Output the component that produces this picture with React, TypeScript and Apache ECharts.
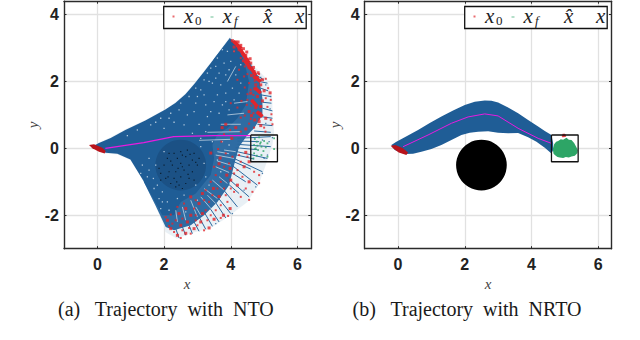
import React, { useEffect, useRef } from "react";
import * as echarts from "echarts";

type P = number[];
const xTicks = [0, 2, 4, 6];
const yTicks = [-2, 0, 2, 4];
const goalBox: P[] = [[4.6, 0.4], [5.4, 0.4], [5.4, -0.4], [4.6, -0.4], [4.6, 0.4]];
const obstacle: P[] = [[2.5, -0.5, 0.76]];

// Panel (a)
const fanPaleA: P[] = [[-0.1, 0.08], [0.03, 0.17], [0.4, 0.33], [0.84, 0.57], [1.44, 0.85], [2.04, 1.18], [2.34, 1.38], [2.64, 1.64], [2.9, 1.94], [3.18, 2.29], [3.5, 2.7], [3.97, 3.33], [4.1, 3.25], [4.6, 2.56], [5.1, 2.06], [5.25, 1.46], [5.25, 0.95], [5.3, 0.5], [5.25, 0.1], [5.05, -0.5], [4.83, -1.1], [4.5, -1.6], [3.9, -2.06], [3.39, -2.39], [2.79, -2.54], [2.39, -2.7], [2.04, -2.5], [1.99, -2.3], [1.74, -1.7], [1.39, -1.0], [0.99, -0.35], [0.6, -0.18], [0.25, -0.15]];
const fanMidA: P[] = [[3.5, 2.68], [3.97, 3.3], [4.15, 3.15], [4.55, 2.6], [4.85, 2.1], [4.95, 1.5], [4.95, 1.0], [4.7, 0.6], [4.5, 0.4], [4.25, 0.05], [4.1, -0.5], [3.95, -1.1], [3.6, -1.6], [3.2, -2.0], [2.8, -2.3], [2.3, -2.45], [2.05, -2.35], [1.74, -1.7], [1.39, -1.0], [2.0, 0.0]];
const fanSolidA: P[] = [[-0.1, 0.08], [0.03, 0.15], [0.4, 0.31], [0.84, 0.55], [1.44, 0.83], [2.04, 1.16], [2.34, 1.36], [2.64, 1.62], [2.9, 1.92], [3.18, 2.27], [3.5, 2.68], [3.97, 3.28], [4.2, 3.05], [4.4, 2.6], [4.55, 2.0], [4.45, 1.3], [4.2, 0.9], [3.9, 0.6], [3.6, 0.42], [3.45, 0.1], [3.5, -0.3], [3.4, -0.8], [2.95, -1.35], [2.5, -1.6], [2.3, -2.0], [1.95, -2.0], [1.59, -1.35], [1.39, -0.98], [0.99, -0.33], [0.6, -0.16], [0.25, -0.13]];
const startA: P[] = [[-0.25, 0.1], [-0.1, 0.12], [0.15, 0.02], [0.25, -0.08], [0.22, -0.15], [0.05, -0.1], [-0.15, 0.0]];
const nominalA: P[] = [[0.24, 0], [1.39, 0.17], [2.29, 0.35], [3.49, 0.38], [4.6, 0.38]];
const streaksA: P[] = [[4.2, 0.3, 5.2, 0.35], [4.2, 0.22, 4.85, 0.2], [4.2, 0.12, 5.2, 0.05], [4.15, 0.02, 4.8, -0.04], [4.1, -0.08, 5.1, -0.3], [4.1, -0.18, 4.7, -0.32], [4.05, -0.28, 4.95, -0.7], [4.05, -0.38, 4.6, -0.62], [4.0, -0.48, 4.8, -1.1], [3.95, -0.68, 4.45, -1.0], [3.9, -0.88, 4.55, -1.45], [3.85, -1.0, 4.25, -1.35], [3.75, -1.2, 4.2, -1.75], [3.6, -1.45, 4.0, -1.95], [3.5, -1.55, 3.85, -2.08], [3.35, -1.75, 3.65, -2.2], [3.2, -1.9, 3.45, -2.33], [3.05, -2.05, 3.25, -2.42], [2.9, -2.2, 3.05, -2.48], [2.75, -2.3, 2.85, -2.55], [2.55, -2.35, 2.65, -2.6], [2.35, -2.4, 2.45, -2.68], [4.5, 2.6, 4.62, 2.5], [4.75, 2.2, 4.98, 2.05], [4.85, 2.0, 5.1, 1.95], [4.9, 1.8, 5.12, 1.72], [4.9, 1.6, 5.2, 1.55], [4.95, 1.38, 5.22, 1.35], [4.95, 1.2, 5.25, 1.12], [4.9, 0.95, 5.25, 0.9], [4.8, 0.72, 5.25, 0.68], [4.7, 0.52, 5.2, 0.48]];
const gapsA: P[] = [[3.05, 0.24, 4.0, 0.27], [3.3, 0.48, 4.3, 0.5], [3.7, 0.72, 4.3, 0.72], [3.55, -0.2, 4.1, -0.3], [3.55, -0.55, 3.95, -0.72], [3.45, -0.95, 3.8, -1.25], [3.1, -1.45, 3.45, -1.85], [2.8, -1.55, 3.0, -2.05], [2.55, -1.75, 2.65, -2.15], [2.35, -1.85, 2.4, -2.2], [3.2, -1.2, 3.6, -1.5], [3.8, -0.05, 4.15, -0.1], [3.9, 1.0, 4.4, 1.05], [4.1, 1.35, 4.5, 1.4], [3.9, 2.0, 4.15, 2.45], [3.6, -0.1, 3.95, -0.16], [3.6, -0.38, 4.0, -0.5], [3.65, -0.85, 3.9, -1.05], [3.3, -1.4, 3.55, -1.65], [2.95, -1.75, 3.1, -2.0]];
const speckleA: P[] = [[1.6, 0.7], [1.9, 0.9], [2.2, 1.05], [2.5, 1.35], [2.75, 1.55], [2.95, 1.8], [3.2, 2.05], [3.4, 2.4], [3.6, 2.7], [3.75, 2.95], [3.9, 2.9], [3.8, 2.55], [3.65, 2.25], [3.95, 2.35], [3.45, 1.95], [3.2, 1.6], [2.95, 1.35], [3.5, 1.4], [3.85, 1.65], [4.05, 1.8], [4.15, 2.2], [3.3, 0.95], [3.65, 1.05], [3.95, 1.15], [2.7, 1.0], [2.3, 0.78], [3.05, 0.72], [3.35, 0.7], [1.2, 0.55], [0.9, 0.38], [2.0, 0.6], [2.6, 0.7], [2.9, 1.1], [3.1, 0.3], [2.0, -0.1], [1.75, -0.5], [1.5, -0.85], [1.7, -1.2], [1.85, -1.5], [1.95, -1.6], [2.1, -1.6], [1.35, -0.5], [1.55, -0.3], [3.2, -0.45], [3.25, -0.85], [2.95, -1.1], [2.6, -1.4], [2.4, -1.5], [3.1, 0.05], [2.15, 0.9], [2.45, 1.15], [3.1, 1.75], [3.35, 2.0], [3.55, 2.45], [3.7, 1.9], [4.0, 2.6], [4.1, 2.9], [4.1, 1.45], [3.75, 1.3], [3.4, 1.1], [1.75, 0.78], [1.55, -0.65], [1.68, -0.9], [1.3, -0.75], [2.85, 0.45], [3.25, 0.5], [3.3, 2.25], [3.55, 2.1], [3.85, 2.2], [3.0, 1.55], [3.25, 1.3], [3.6, 1.6], [3.85, 1.4], [4.25, 1.65], [4.3, 1.95], [4.3, 2.5], [1.8, -1.1], [1.95, -1.3], [2.15, -1.85], [1.9, -1.8], [3.45, 0.2], [3.75, 0.2], [3.95, 0.1], [3.6, -0.35], [3.7, -0.7], [3.35, -1.1], [3.0, -1.55], [2.65, -1.9]];
const obstacleDotsA: P[] = [[2.3, -0.15], [2.5, -0.1], [2.7, -0.05], [2.9, -0.15], [2.1, -0.3], [2.4, -0.3], [2.65, -0.25], [2.85, -0.35], [3.05, -0.3], [2.0, -0.5], [2.25, -0.5], [2.5, -0.45], [2.75, -0.5], [3.0, -0.5], [1.9, -0.75], [2.15, -0.7], [2.35, -0.7], [2.6, -0.65], [2.85, -0.7], [2.05, -0.9], [2.3, -0.9], [2.5, -0.85], [2.75, -0.9], [2.2, -1.05], [2.45, -1.1], [2.65, -1.05], [2.55, -1.2], [2.35, -1.15], [2.9, -0.95], [1.85, -0.6], [2.15, -0.15], [1.9, -0.95], [2.55, -0.2], [2.78, -0.18], [2.2, -0.38], [2.95, -0.42], [2.55, -0.55], [2.42, -0.6], [2.72, -0.78], [2.12, -0.85], [2.38, -1.0]];
const redBandA: P[] = [[4.08, 3.2, 4.32, 2.98], [4.2, 3.08, 4.42, 2.75], [4.35, 2.85, 4.55, 2.55], [4.42, 2.62, 4.62, 2.35], [4.6, 2.42, 4.75, 2.18], [4.68, 2.15, 4.9, 2.0], [4.72, 1.82, 4.9, 1.65], [4.62, 1.45, 4.8, 1.25], [4.78, 1.1, 4.95, 0.95]];
const redBigA: P[] = [[4.05, 3.22], [4.15, 3.18], [4.2, 3.08], [4.1, 3.03], [4.3, 3.08], [4.25, 2.95], [4.38, 2.98], [4.35, 2.85], [4.45, 2.78], [4.5, 2.65], [4.38, 2.62], [4.6, 2.55], [4.55, 2.42], [4.7, 2.3], [4.62, 2.18], [4.8, 2.12], [4.95, 2.05], [4.9, 1.9], [4.72, 1.78], [5.0, 1.72], [5.18, 1.66], [4.8, 1.55], [4.65, 1.42], [4.95, 1.42], [4.75, 1.22], [4.55, 1.1], [4.88, 1.05], [4.72, 0.85], [4.9, 0.68], [5.05, 0.9], [3.85, 0.72], [4.15, 0.62], [4.45, 0.58], [3.74, 0.62], [4.03, 0.3], [3.68, -0.29], [3.4, -0.14], [3.65, -0.46], [3.98, -0.6], [4.4, -0.55], [4.55, -0.4], [4.45, -0.12], [3.88, -0.8], [4.0, -0.95], [4.2, -1.1], [4.55, -1.0], [3.15, -1.35], [3.48, -1.2], [3.65, -1.44], [3.98, -1.8], [3.78, -2.0], [2.8, -1.45], [2.65, -1.8], [3.15, -1.95], [2.7, -2.2], [2.45, -1.95], [2.1, -2.15], [2.2, -2.4], [2.4, -2.6], [2.65, -2.54], [2.9, -2.4], [3.35, -2.38], [3.1, -2.2], [3.5, -2.12], [2.8, -2.0], [2.5, -2.3], [3.05, -1.65], [4.22, 3.18], [4.32, 2.92], [4.48, 2.88], [4.58, 2.68], [4.68, 2.42], [4.82, 2.26], [4.75, 1.9], [4.6, 1.65], [4.9, 1.25], [4.62, 0.98], [4.85, 0.8]];
const redSmallA: P[] = [[4.1, 2.9], [4.3, 2.7], [4.42, 2.45], [4.25, 2.35], [4.5, 2.22], [4.4, 2.15], [4.72, 2.02], [4.85, 2.22], [5.05, 2.08], [4.55, 1.95], [4.2, 2.05], [4.42, 1.82], [4.6, 1.75], [4.85, 1.72], [5.12, 1.8], [4.5, 1.62], [4.68, 1.6], [5.05, 1.5], [5.2, 1.45], [4.5, 1.45], [4.32, 1.42], [4.0, 1.35], [4.48, 1.3], [4.62, 1.28], [4.88, 1.25], [5.1, 1.24], [4.2, 1.22], [4.68, 1.05], [5.22, 1.02], [4.42, 0.98], [4.3, 0.92], [4.6, 0.88], [4.85, 0.88], [5.2, 0.85], [5.25, 0.72], [5.0, 0.62], [4.55, 0.74], [3.98, 0.55], [4.3, 0.5], [4.7, 0.62], [5.04, 0.5], [3.8, 0.42], [3.72, 0.2], [3.62, -0.02], [3.85, -0.15], [4.05, -0.25], [4.25, -0.2], [4.3, -0.4], [3.8, -0.55], [3.5, -0.55], [3.55, -0.8], [3.7, -1.0], [3.4, -1.0], [4.1, -0.75], [4.35, -0.85], [4.7, -0.7], [4.85, -0.8], [4.85, -1.04], [4.65, -1.3], [4.55, -1.54], [4.3, -1.45], [4.1, -1.3], [3.85, -1.4], [3.9, -1.6], [3.35, -1.6], [3.25, -1.85], [3.55, -1.85], [3.7, -2.08], [3.92, -2.02], [3.3, -2.15], [2.95, -2.0], [3.0, -2.3], [3.2, -2.45], [2.75, -2.38], [2.55, -2.1], [2.35, -2.15], [2.25, -2.25], [2.15, -2.32], [2.3, -2.5], [2.5, -2.68], [2.55, -2.45], [2.8, -2.55], [2.2, -1.98], [2.05, -2.05], [2.6, -1.65], [2.95, -1.55], [3.25, -1.25], [4.5, -0.25], [3.95, -0.45], [4.2, -0.65], [3.6, -1.2], [3.8, -1.2], [3.45, -1.4], [3.7, -1.7], [3.2, -1.55], [2.9, -1.8], [2.4, -1.75], [2.95, -2.15], [3.4, -2.0], [4.0, -1.2], [4.45, -1.2]];
const blueDotsA: P[] = [[4.95, 0.25], [5.15, 0.2], [5.25, 0.32], [5.1, -0.2], [5.0, -0.3], [4.95, -0.75], [4.75, -1.15], [5.05, 0.75], [5.18, 1.18], [5.2, 1.55], [5.05, 1.9], [4.9, 2.12], [4.4, -1.25], [4.05, -1.95], [3.55, -2.25]];
const goalA: P[] = [[4.72, 0.28], [4.85, 0.33], [5.3, 0.3], [4.78, 0.2], [4.9, 0.18], [5.0, 0.22], [5.1, 0.15], [4.7, 0.1], [4.8, 0.08], [4.92, 0.05], [5.05, 0.03], [4.72, -0.02], [4.82, -0.05], [4.98, -0.08], [5.3, -0.02], [4.7, -0.15], [4.78, -0.22], [4.92, -0.2], [5.1, -0.25], [4.68, -0.3], [4.75, 0.0], [4.88, 0.14]];

// Panel (b)
const fanB: P[] = [[-0.2, 0.1], [-0.05, 0.2], [0.2, 0.33], [0.6, 0.55], [0.95, 0.76], [1.3, 0.95], [1.65, 1.13], [2, 1.3], [2.3, 1.39], [2.6, 1.43], [2.8, 1.42], [3, 1.37], [3.3, 1.22], [3.6, 1.05], [3.9, 0.85], [4.2, 0.65], [4.4, 0.52], [4.6, 0.4], [4.65, 0.15], [4.65, -0.05], [4.6, -0.15], [4.4, 0.02], [4.15, 0.2], [3.9, 0.33], [3.6, 0.46], [3.3, 0.45], [3, 0.47], [2.7, 0.51], [2.4, 0.5], [2.15, 0.47], [1.9, 0.4], [1.6, 0.25], [1.3, 0.1], [1.0, -0.02], [0.7, -0.1], [0.45, -0.16], [0.2, -0.17], [-0.1, -0.05]];
const startB: P[] = [[-0.22, 0.08], [-0.08, 0.1], [0.15, 0.0], [0.3, -0.12], [0.25, -0.2], [0.02, -0.12], [-0.15, 0.0]];
const nominalB: P[] = [[0.15, 0.05], [0.9, 0.4], [1.6, 0.75], [2.1, 0.94], [2.6, 1.03], [3, 0.97], [3.6, 0.6], [4.2, 0.3], [4.6, 0.15]];
const goalB: P[] = [[4.68, 0.12], [4.74, 0.2], [4.8, 0.22], [4.88, 0.27], [4.95, 0.26], [5.05, 0.32], [5.12, 0.26], [5.2, 0.25], [5.28, 0.16], [5.34, 0.05], [5.39, -0.05], [5.38, -0.14], [5.3, -0.22], [5.2, -0.24], [5.12, -0.27], [5.03, -0.26], [4.95, -0.29], [4.85, -0.27], [4.78, -0.26], [4.7, -0.2], [4.66, -0.15], [4.64, -0.02]];
const redB: P[] = [[4.97, 0.4], [4.95, 0.37], [5.0, 0.38]];

const BLUE = "#1f5d96";
const RED = "#e2252b";
const DARKRED = "#b8141c";
const GREEN = "#2da566";
const MAGENTA = "#e81be0";
const GRID = "#e1e1e1";
const AXIS = "#2b2b2b";

const poly = (pts: P[], color: string, g: number, z: number, opacity = 1) => ({
  type: "custom", xAxisIndex: g * 2, yAxisIndex: g * 2, data: pts, z, silent: true, clip: true,
  encode: { x: 0, y: 1 },
  renderItem: (p: any, api: any) => p.dataIndex !== 0 ? null : ({
    type: "polygon",
    shape: { points: pts.map((q) => api.coord(q)) },
    style: { fill: color, opacity },
  }),
});
const dots = (pts: P[], color: string, g: number, z: number, size: number) => ({
  type: "scatter", xAxisIndex: g * 2, yAxisIndex: g * 2, data: pts, z, silent: true,
  symbol: "rect", symbolSize: size, itemStyle: { color },
});
const segs = (pts: P[], color: string, g: number, z: number, width: number) => ({
  type: "custom", xAxisIndex: g * 2, yAxisIndex: g * 2, data: pts, z, silent: true, clip: true,
  encode: { x: [0, 2], y: [1, 3] },
  renderItem: (_: any, api: any) => {
    const a = api.coord([api.value(0), api.value(1)]);
    const b = api.coord([api.value(2), api.value(3)]);
    return { type: "line", shape: { x1: a[0], y1: a[1], x2: b[0], y2: b[1] }, style: { stroke: color, lineWidth: width } };
  },
});
const path = (pts: P[], color: string, g: number, z: number, width: number) => ({
  type: "line", xAxisIndex: g * 2, yAxisIndex: g * 2, data: pts, z, silent: true,
  showSymbol: false, smooth: false, lineStyle: { color, width },
});
const disc = (color: string, g: number, z: number) => ({
  type: "custom", xAxisIndex: g * 2, yAxisIndex: g * 2, data: obstacle, z, silent: true, clip: true,
  encode: { x: 0, y: 1 },
  renderItem: (_: any, api: any) => {
    const c = api.coord([api.value(0), api.value(1)]);
    const r = api.size([api.value(2), 0])[0];
    return { type: "circle", shape: { cx: c[0], cy: c[1], r }, style: { fill: color } };
  },
});

const lefts = [64, 364.7];
const tickFont = { fontFamily: "Liberation Sans", fontWeight: "bold" as const, fontSize: 16, color: "#222" };

const legend = (ox: number) => {
  const mathBase = { fontFamily: "Liberation Serif", fontStyle: "italic" as const, fontSize: 21, fill: "#222", verticalAlign: "middle" as const };
  return [
    { type: "rect", z: 50, shape: { x: ox + 163.7, y: 6.5, width: 142.5, height: 22 }, style: { fill: "#fff", stroke: "#111", lineWidth: 1.3 } },
    { type: "rect", z: 51, shape: { x: ox + 172.5, y: 15.5, width: 2, height: 2 }, style: { fill: "#ea6a6e" } },
    { type: "rect", z: 51, shape: { x: ox + 210.5, y: 16.5, width: 3, height: 1 }, style: { fill: "#69bf92" } },
    { type: "text", z: 51, x: ox + 184, y: 16, style: { ...mathBase, text: "x" } },
    { type: "text", z: 51, x: ox + 195, y: 20.5, style: { fontFamily: "Liberation Serif", fontSize: 13, fill: "#222", verticalAlign: "middle", text: "0" } },
    { type: "text", z: 51, x: ox + 222.5, y: 16, style: { ...mathBase, text: "x" } },
    { type: "text", z: 51, x: ox + 234, y: 20.5, style: { ...mathBase, fontSize: 13, text: "f" } },
    { type: "text", z: 51, x: ox + 263, y: 16, style: { ...mathBase, text: "x\u0302" } },
    { type: "text", z: 51, x: ox + 295, y: 16, style: { ...mathBase, text: "x" } },
  ];
};

const captions = ["(a)   Trajectory  with  NTO", "(b)   Trajectory  with  NRTO"];
const captionX = [58, 352.5];
const axisNameX = [187, 488];
const axisNameY = [33, 335];

function build() {
  const grids = lefts.map((left) => ({ left, top: 1.2, width: 246.8, height: 247.5, show: true, backgroundColor: "#fff", borderWidth: 0 }));
  const xAxis: any[] = [];
  const yAxis: any[] = [];
  [0, 1].forEach((g) => {
    xAxis.push(
      { type: "value", gridIndex: g, min: -1, max: 6.4, position: "bottom",
        axisLine: { show: true, onZero: false, lineStyle: { color: AXIS, width: 1.4 } },
        axisTick: { show: true, inside: true, length: 2.5, customValues: xTicks, lineStyle: { color: AXIS } },
        axisLabel: { show: true, margin: 8, customValues: xTicks, ...tickFont },
        splitLine: { show: true, lineStyle: { color: GRID, width: 1.3 } } },
      { type: "value", gridIndex: g, min: -1, max: 6.4, position: "top",
        axisLine: { show: true, onZero: false, lineStyle: { color: AXIS, width: 1.4 } },
        axisTick: { show: true, inside: true, length: 2.5, customValues: xTicks, lineStyle: { color: AXIS } },
        axisLabel: { show: false }, splitLine: { show: false } },
    );
    yAxis.push(
      { type: "value", gridIndex: g, min: -3, max: 4.4, position: "left",
        axisLine: { show: true, onZero: false, lineStyle: { color: AXIS, width: 1.4 } },
        axisTick: { show: true, inside: true, length: 2.5, customValues: yTicks, lineStyle: { color: AXIS } },
        axisLabel: { show: true, margin: 5, customValues: yTicks, ...tickFont },
        splitLine: { show: true, lineStyle: { color: GRID, width: 1.3 } } },
      { type: "value", gridIndex: g, min: -3, max: 4.4, position: "right",
        axisLine: { show: true, onZero: false, lineStyle: { color: AXIS, width: 1.4 } },
        axisTick: { show: true, inside: true, length: 2.5, customValues: yTicks, lineStyle: { color: AXIS } },
        axisLabel: { show: false }, splitLine: { show: false } },
    );
  });

  const series: any[] = [
    poly(fanPaleA, "#e4ecf3", 0, 2, 0.8),
    poly(fanMidA, "#2f6ca3", 0, 2.5),
    poly(fanSolidA, BLUE, 0, 3),
    disc("#1b5185", 0, 4),
    segs(streaksA, "#2a689e", 0, 5, 1),
    segs(gapsA, "#d5e2ed", 0, 6, 0.7),
    dots(speckleA, "#d5e2ed", 0, 7, 1.3),
    dots(obstacleDotsA, "#06121c", 0, 8, 1.2),
    dots(blueDotsA, BLUE, 0, 8, 1.3),
    segs(redBandA, RED, 0, 9, 3.5),
    dots(redSmallA, RED, 0, 9, 2),
    dots(redBigA, RED, 0, 10, 3),
    poly(startA, DARKRED, 0, 11),
    path(nominalA, MAGENTA, 0, 12, 1.3),
    dots(goalA, GREEN, 0, 13, 1.8),
    path(goalBox, "#111", 0, 14, 1.3),

    disc("#000", 1, 2),
    poly(fanB, BLUE, 1, 3),
    path(nominalB, MAGENTA, 1, 5, 1),
    poly(startB, DARKRED, 1, 6),
    poly(goalB, GREEN, 1, 7),
    dots(redB, RED, 1, 8, 2.5),
    path(goalBox, "#111", 1, 9, 1.3),
  ];

  const graphic: any[] = [
    ...legend(0), ...legend(301),
    ...[0, 1].flatMap((i) => [
      { type: "text", z: 60, x: captionX[i], y: 309, style: { text: captions[i], fontFamily: "Liberation Serif", fontSize: 20, fill: "#1a1a1a", align: "left", verticalAlign: "middle" } },
      { type: "text", z: 60, x: axisNameX[i], y: 284, style: { text: "x", fontFamily: "Liberation Serif", fontStyle: "italic", fontSize: 15, fill: "#444", align: "center", verticalAlign: "middle" } },
      { type: "text", z: 60, x: axisNameY[i], y: 125, rotation: Math.PI / 2, style: { text: "y", fontFamily: "Liberation Serif", fontStyle: "italic", fontSize: 15, fill: "#444", align: "center", verticalAlign: "middle" } },
    ]),
  ];

  return { animation: false, backgroundColor: "#fff", grid: grids, xAxis, yAxis, series, graphic };
}

export default function App() {
  const ref = useRef<HTMLDivElement>(null);
  useEffect(() => {
    const chart = echarts.init(ref.current!, undefined, { renderer: "svg" });
    chart.setOption(build() as any);
    return () => chart.dispose();
  }, []);
  return <div ref={ref} style={{ position: "absolute", left: 0, top: 0, width: 640, height: 340 }} />;
}
